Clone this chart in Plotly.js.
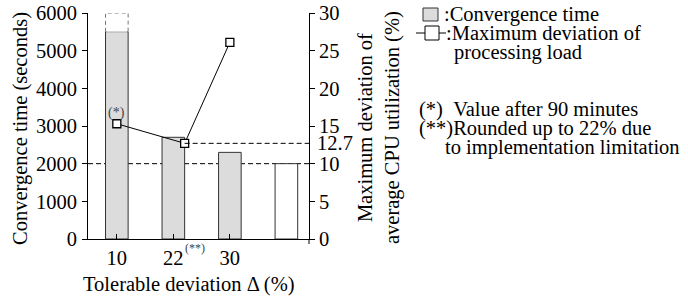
<!DOCTYPE html>
<html><head><meta charset="utf-8">
<script src="https://cdn.plot.ly/plotly-3.0.1.min.js"></script>
<style>html,body{margin:0;padding:0;background:#fff}#c{width:688px;height:296px}</style>
</head><body><div id="c"></div>
<script>
// ---- data ----
const barX = [10, 20, 30, 40];               // bar slots on the deviation axis
const convergenceTime = [5500, 2700, 2300, 2000];
const barFill = ['#dcdcdc', '#dcdcdc', '#dcdcdc', '#ffffff'];
const lineX = [10, 22, 30];
const maxDeviation = [15.3, 12.7, 26.1];
const xTickVals = [10, 20, 30];
const xTickText = ['10', '22', '30'];
const y1Ticks = [0, 1000, 2000, 3000, 4000, 5000, 6000];
const y2Ticks = [0, 5, 10, 15, 20, 25, 30];
const extendedTop = 6000;   // bar 1 continues beyond (dashed)
const refTime = 2000;       // dashed reference (= 10 %)
const refDev = 12.7;

const FONT = 'Liberation Serif, Times New Roman, serif';
const FS = 20.5;
const L = 88, R = 309, T = 13, B = 239;
const W = R - L, H = B - T;
const px = v => (v - L) / W;
const py = v => (B - v) / H;
const barW = 4;
const X1 = 44.0;

const traces = [
  {type: 'bar', x: barX, y: convergenceTime, width: barW,
   marker: {color: barFill, line: {color: '#333', width: 1}}, yaxis: 'y', hoverinfo: 'none'},
  {type: 'scatter', mode: 'lines+markers', x: lineX, y: maxDeviation, yaxis: 'y2',
   line: {color: '#000', width: 1},
   marker: {symbol: 'square', size: 8, color: '#fff', line: {color: '#000', width: 1.3}}}
];

const shapes = [
  // light top edge of the measured part of bar 1
  {type: 'line', xref: 'x', yref: 'y', x0: barX[0]-barW/2+0.15, x1: barX[0]+barW/2-0.15,
   y0: convergenceTime[0], y1: convergenceTime[0], line: {color: '#f2f2f2', width: 1.2}},
  // dashed continuation of bar 1
  {type: 'path', xref: 'x', yref: 'y',
   path: `M ${barX[0]-barW/2} ${convergenceTime[0]} L ${barX[0]-barW/2} ${extendedTop} L ${barX[0]+barW/2} ${extendedTop} L ${barX[0]+barW/2} ${convergenceTime[0]}`,
   line: {color: '#777', width: 1, dash: '4px,3px'}},
  // reference dashed lines
  {type: 'line', xref: 'paper', yref: 'y', x0: 0, x1: 1, y0: refTime, y1: refTime,
   line: {color: '#000', width: 1, dash: '5px,3px'}, layer: 'below'},
  {type: 'line', xref: 'x', yref: 'y2', x0: lineX[1], x1: X1, y0: refDev, y1: refDev,
   line: {color: '#000', width: 1, dash: '5px,3px'}},
  // right axis extends below baseline
  {type: 'line', xref: 'paper', yref: 'paper', x0: 1, x1: 1, y0: 0, y1: -5/H,
   line: {color: '#000', width: 1}},
  // legend symbols
  {type: 'rect', xref: 'paper', yref: 'paper', x0: px(423), x1: px(438), y0: py(21), y1: py(8),
   fillcolor: '#dcdcdc', line: {color: '#333', width: 1}},
  {type: 'line', xref: 'paper', yref: 'paper', x0: px(416), x1: px(446), y0: py(33), y1: py(33),
   line: {color: '#000', width: 1}},
  {type: 'rect', xref: 'paper', yref: 'paper', x0: px(425), x1: px(439), y0: py(40), y1: py(26),
   fillcolor: '#fff', line: {color: '#000', width: 1}}
];

const ann = (text, x, y, opts = {}) => Object.assign({
  text, xref: 'paper', yref: 'paper', x: px(x), y: py(y), showarrow: false,
  xanchor: 'left', yanchor: 'middle', font: {family: FONT, size: FS, color: '#000'}
}, opts);

const annotations = [
  ann(':Convergence time', 442, 14),
  ann(':Maximum deviation of', 444, 33),
  ann('processing load', 452, 52),
  ann('(*)&nbsp;&nbsp;Value after 90 minutes', 417, 109),
  ann('(**)Rounded up to 22% due', 417, 128),
  ann('to implementation limitation', 443, 147),
  // right axis label
  {text: 'Maximum deviation of<br>average CPU utilization (%)', textangle: -90,
   xref: 'paper', yref: 'paper', x: px(379), y: py(128), showarrow: false,
   xanchor: 'center', yanchor: 'middle', font: {family: FONT, size: FS, color: '#000'}},
  // left axis label
  {text: 'Convergence time (seconds)', textangle: -90,
   xref: 'paper', yref: 'paper', x: px(20), y: py(129), showarrow: false,
   xanchor: 'center', yanchor: 'middle', font: {family: FONT, size: FS, color: '#000'}},
  // x title
  {text: 'Tolerable deviation &#916; (%)', xref: 'paper', yref: 'paper', x: px(188.5), y: py(284),
   showarrow: false, xanchor: 'center', yanchor: 'middle', font: {family: FONT, size: FS, color: '#000'}},
  // 12.7 label
  {text: String(refDev), xref: 'paper', yref: 'y2', x: px(315), y: refDev, showarrow: false,
   xanchor: 'left', yanchor: 'middle', font: {family: FONT, size: FS, color: '#000'}},
  // footnote marks
  {text: '(*)', xref: 'x', yref: 'y2', x: lineX[0], y: maxDeviation[0], yshift: 11, showarrow: false,
   xanchor: 'center', yanchor: 'middle', font: {family: FONT, size: 14, color: '#444'}},
  {text: '(**)', xref: 'x', yref: 'paper', x: barX[1], xshift: 10, y: py(248), showarrow: false,
   xanchor: 'left', yanchor: 'middle', font: {family: FONT, size: 12, color: '#444'}}
];

const axisFont = {family: FONT, size: FS, color: '#000'};
const layout = {
  width: 688, height: 296,
  margin: {l: L, r: 688 - R, t: T, b: 296 - B, pad: 0},
  paper_bgcolor: '#fff', plot_bgcolor: '#fff',
  showlegend: false, bargap: 0,
  font: {family: FONT, size: FS, color: '#000'},
  xaxis: {range: [4.9, X1], tickvals: xTickVals, ticktext: xTickText, ticks: 'inside',
          ticklen: 5, tickcolor: '#000', showline: true, linecolor: '#000', linewidth: 1,
          showgrid: false, zeroline: false, tickfont: axisFont, fixedrange: true},
  yaxis: {range: [0, 6000], tickvals: y1Ticks, ticks: 'outside', ticklen: 5, tickcolor: '#000',
          showline: true, linecolor: '#000', linewidth: 1, showgrid: false, zeroline: false,
          tickfont: axisFont, ticklabelstandoff: 1},
  yaxis2: {range: [0, 30], tickvals: y2Ticks, overlaying: 'y', side: 'right', ticks: 'outside',
           ticklen: 5, tickcolor: '#000', showline: true, linecolor: '#000', linewidth: 1,
           showgrid: false, zeroline: false, tickfont: axisFont, ticklabelstandoff: 0},
  shapes, annotations
};
Plotly.newPlot('c', traces, layout, {staticPlot: true, displayModeBar: false});
</script></body></html>
